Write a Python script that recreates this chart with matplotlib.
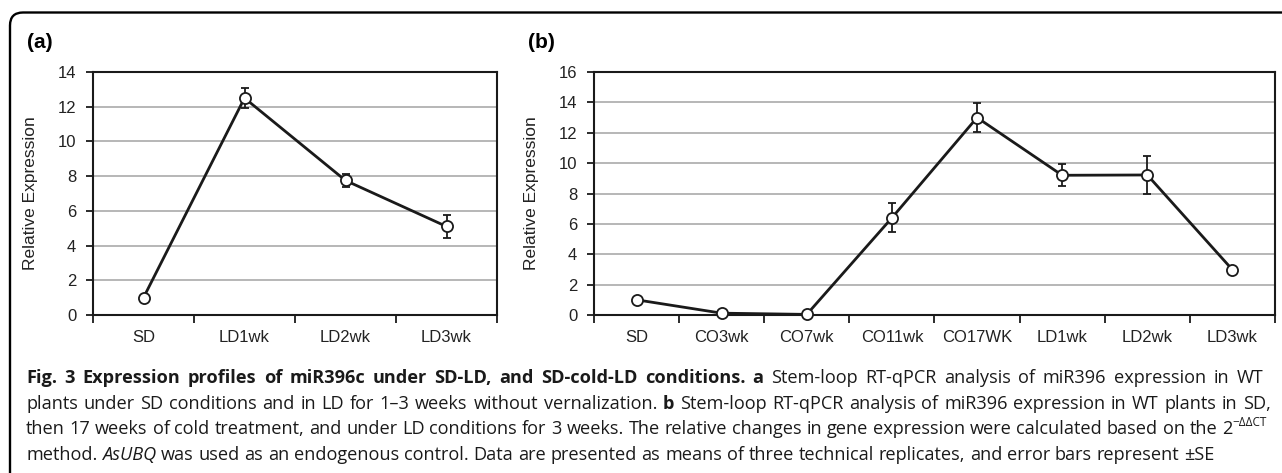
import numpy as np
import matplotlib
matplotlib.use("Agg")
import matplotlib.pyplot as plt
from matplotlib.patches import FancyBboxPatch
from matplotlib.transforms import IdentityTransform

# panel (a): SD then long days
cats_a = ["SD", "LD1wk", "LD2wk", "LD3wk"]
expr_a = [1.0, 12.5, 7.75, 5.1]
err_a = [0.0, 0.58, 0.38, 0.66]

# panel (b): SD, cold, then long days
cats_b = ["SD", "CO3wk", "CO7wk", "CO11wk", "CO17WK", "LD1wk", "LD2wk", "LD3wk"]
expr_b = [1.0, 0.12, 0.04, 6.4, 13.0, 9.2, 9.22, 2.98]
err_b = [0.0, 0.0, 0.0, 0.96, 0.98, 0.72, 1.25, 0.0]

W, H = 1282, 473
plt.rcParams['font.family'] = ['Liberation Sans', 'DejaVu Sans']
fig = plt.figure(figsize=(W / 100, H / 100), dpi=100)
INK = '#1a1a1a'


def panel(box, cats, vals, errs, ymax, tag, tag_x):
    l, t, r, b = box  # pixel box of the plot area
    ax = fig.add_axes([l / W, 1 - b / H, (r - l) / W, (b - t) / H])
    x = np.arange(len(cats))
    ax.errorbar(x, vals, yerr=errs, fmt='none', ecolor=INK, elinewidth=1.3,
                capsize=3, capthick=1.3, zorder=3, clip_on=False)
    ax.plot(x, vals, color=INK, lw=2.0, marker='o', ms=8, mfc='white',
            mec=INK, mew=1.3, zorder=4, clip_on=False)
    ax.set_xlim(-0.5, len(cats) - 0.5)
    ax.set_ylim(0, ymax)
    ax.set_yticks(np.arange(0, ymax + 1, 2))
    # ticks between categories, labels at category centres
    ax.set_xticks(np.arange(len(cats) + 1) - 0.5)
    ax.set_xticklabels([])
    ax.set_xticks(x, minor=True)
    ax.set_xticklabels(cats, minor=True)
    ax.tick_params(axis='x', which='major', length=6, width=1.3, color=INK)
    ax.tick_params(axis='x', which='minor', length=0, pad=11, labelsize=12,
                   labelcolor='#222222')
    ax.tick_params(axis='y', length=5, width=1.3, pad=7, labelsize=12,
                   color=INK, labelcolor='#222222')
    ax.grid(axis='y', color='#aaaaaa', lw=1.2)
    ax.set_axisbelow(True)
    for s in ax.spines.values():
        s.set_linewidth(1.5)
        s.set_color(INK)
    ax.set_ylabel("Relative Expression", fontsize=12.5, color='#222222')
    ax.yaxis.set_label_coords(-55 / (r - l), 0.5)
    fig.text(tag_x / W, 1 - 42 / H, tag, fontsize=15, fontweight='bold',
             va='center', ha='left')
    return ax


panel((93, 72, 497, 315), cats_a, expr_a, err_a, 14, "(a)", 27)
panel((594, 72, 1275, 315), cats_b, expr_b, err_b, 16, "(b)", 528)

# rounded frame around the figure (cut by the image edges right and bottom)
frame = FancyBboxPatch((0.10, -0.5), 13.5, 4.605 + 0.5,
                       boxstyle="round,pad=0,rounding_size=0.13",
                       transform=fig.dpi_scale_trans, fill=False,
                       ec='black', lw=1.7)
fig.add_artist(frame)

# caption
CAP = ['Open Sans', 'DejaVu Sans']
FS = 13.1
STY = {
    'r': dict(family=CAP, size=FS),
    'b': dict(family=CAP, size=FS, weight='bold'),
    'i': dict(family=CAP, size=FS, style='italic'),
    'sup': dict(family=CAP, size=8.5),
}


def caption_line(segs, base_y, x0, x1=None):
    groups = []
    for text, st in segs:
        if st == 'sup':
            groups[-1].append((text, st))
            continue
        for w in text.split():
            groups.append([(w, st)])
    rend = fig.canvas.get_renderer()
    placed, widths = [], []
    for g in groups:
        parts, gw = [], 0.0
        for text, st in g:
            dy = 8 if st == 'sup' else 0
            tt = fig.text(0, 0, text, transform=IdentityTransform(),
                          va='baseline', ha='left', color='#1a1a1a', **STY[st])
            parts.append((tt, gw, dy))
            gw += tt.get_window_extent(rend).width
        placed.append(parts)
        widths.append(gw)
    if x1 is None:
        gap = 0.26 * FS * 100 / 72
    else:
        gap = (x1 - x0 - sum(widths)) / (len(groups) - 1)
    x = x0
    y = H - base_y
    for parts, gw in zip(placed, widths):
        for tt, off, dy in parts:
            tt.set_position((x + off, y + dy))
        x += gw + gap


caption_line([("Fig. 3 Expression profiles of miR396c under SD-LD, and SD-cold-LD conditions. a", 'b'),
              ("Stem-loop RT-qPCR analysis of miR396 expression in WT", 'r')],
             383, 26, 1263)
caption_line([("plants under SD conditions and in LD for 1–3 weeks without vernalization.", 'r'),
              ("b", 'b'),
              ("Stem-loop RT-qPCR analysis of miR396 expression in WT plants in SD,", 'r')],
             408.5, 26, 1271)
caption_line([("then 17 weeks of cold treatment, and under LD conditions for 3 weeks. The relative changes in gene expression were calculated based on the 2", 'r'),
              ("\u2212\u0394\u0394CT", 'sup')],
             434, 26, 1267)
caption_line([("method.", 'r'), ("AsUBQ", 'i'),
              ("was used as an endogenous control. Data are presented as means of three technical replicates, and error bars represent ±SE", 'r')],
             459.5, 26)

fig.savefig("out.png", dpi=100)
